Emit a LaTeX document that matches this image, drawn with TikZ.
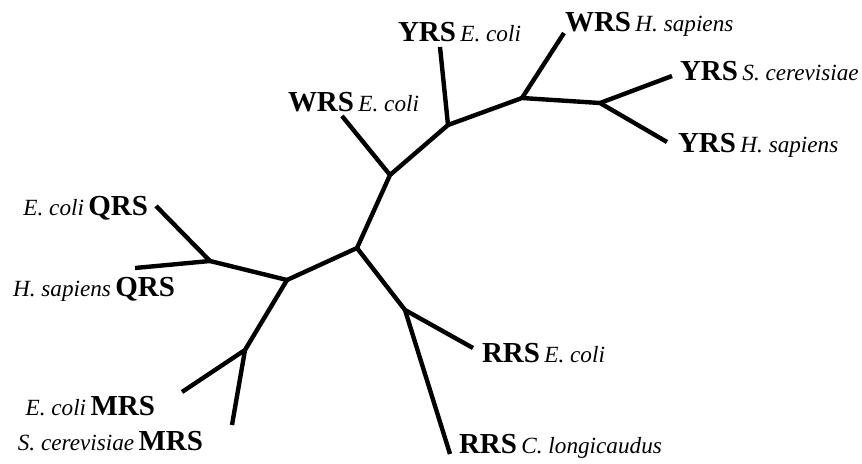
\documentclass[tikz,border=0pt]{standalone}
\usepackage{fontspec}
\setmainfont{Liberation Serif}
\usetikzlibrary{positioning}
\tikzset{branch/.style={draw, line width=2.5pt, line join=round}}
\tikzset{taxon/.style={inner sep=0pt, outer sep=0pt}}
\newcommand{\enzyme}[1]{{\fontsize{16.5}{18}\selectfont\bfseries #1}}
\newcommand{\species}[1]{{\fontsize{13.2}{15}\selectfont\itshape #1}}

\begin{document}
\begin{tikzpicture}
\useasboundingbox (0,0) rectangle (17.24,9.26);
% inner nodes
\coordinate (qrs) at (4.20,4.04);
\coordinate (qm) at (5.74,3.66);
\coordinate (mrs) at (4.90,2.26);
\coordinate (mid) at (7.14,4.30);
\coordinate (rrs) at (8.10,3.06);
\coordinate (wy1) at (7.80,5.76);
\coordinate (wy2) at (8.96,6.76);
\coordinate (wy3) at (10.44,7.30);
\coordinate (yrs) at (12.00,7.20);
% leaves
\coordinate (qrsE) at (3.12,5.14);
\coordinate (qrsH) at (2.70,3.90);
\coordinate (mrsE) at (3.64,1.42);
\coordinate (mrsS) at (4.64,0.76);
\coordinate (rrsE) at (9.46,2.30);
\coordinate (rrsC) at (9.00,0.18);
\coordinate (wrsE) at (6.84,6.94);
\coordinate (yrsE) at (8.80,8.32);
\coordinate (wrsH) at (11.28,8.60);
\coordinate (yrsS) at (13.44,7.74);
\coordinate (yrsH) at (13.34,6.42);
%
\draw[branch] (qrsE) -- (qrs) -- (qrsH);
\draw[branch] (qrs) -- (qm) -- (mid) -- (wy1) -- (wy2) -- (wy3) -- (yrs) -- (yrsS);
\draw[branch] (yrs) -- (yrsH);
\draw[branch] (qm) -- (mrs) -- (mrsE);
\draw[branch] (mrs) -- (mrsS);
\draw[branch] (mid) -- (rrs) -- (rrsE);
\draw[branch] (rrs) -- (rrsC);
\draw[branch] (wy1) -- (wrsE);
\draw[branch] (wy2) -- (yrsE);
\draw[branch] (wy3) -- (wrsH);
%
\node[taxon, anchor=base east] (lqrsE) at (2.96,4.96) {\species{E. coli} \enzyme{QRS}};
\node[taxon, anchor=base east] (lqrsH) at (3.50,3.33) {\species{H. sapiens} \enzyme{QRS}};
\node[taxon, anchor=base east] (lmrsE) at (3.10,0.96) {\species{E. coli} \enzyme{MRS}};
\node[taxon, anchor=base east] (lmrsS) at (4.06,0.26) {\species{S. cerevisiae} \enzyme{MRS}};
\node[taxon, anchor=base west] (lrrsE) at (9.64,2.02) {\enzyme{RRS} \species{E. coli}};
\node[taxon, anchor=base west] (lrrsC) at (9.18,0.20) {\enzyme{RRS} \species{C. longicaudus}};
\node[taxon, anchor=base west] (lwrsE) at (5.76,7.04) {\enzyme{WRS} \species{E. coli}};
\node[taxon, anchor=base west] (lyrsE) at (7.96,8.42) {\enzyme{YRS} \species{E. coli}};
\node[taxon, anchor=base west] (lwrsH) at (11.30,8.62) {\enzyme{WRS} \species{H. sapiens}};
\node[taxon, anchor=base west] (lyrsS) at (13.60,7.64) {\enzyme{YRS} \species{S. cerevisiae}};
\node[taxon, anchor=base west] (lyrsH) at (13.56,6.22) {\enzyme{YRS} \species{H. sapiens}};
\end{tikzpicture}
\end{document}
